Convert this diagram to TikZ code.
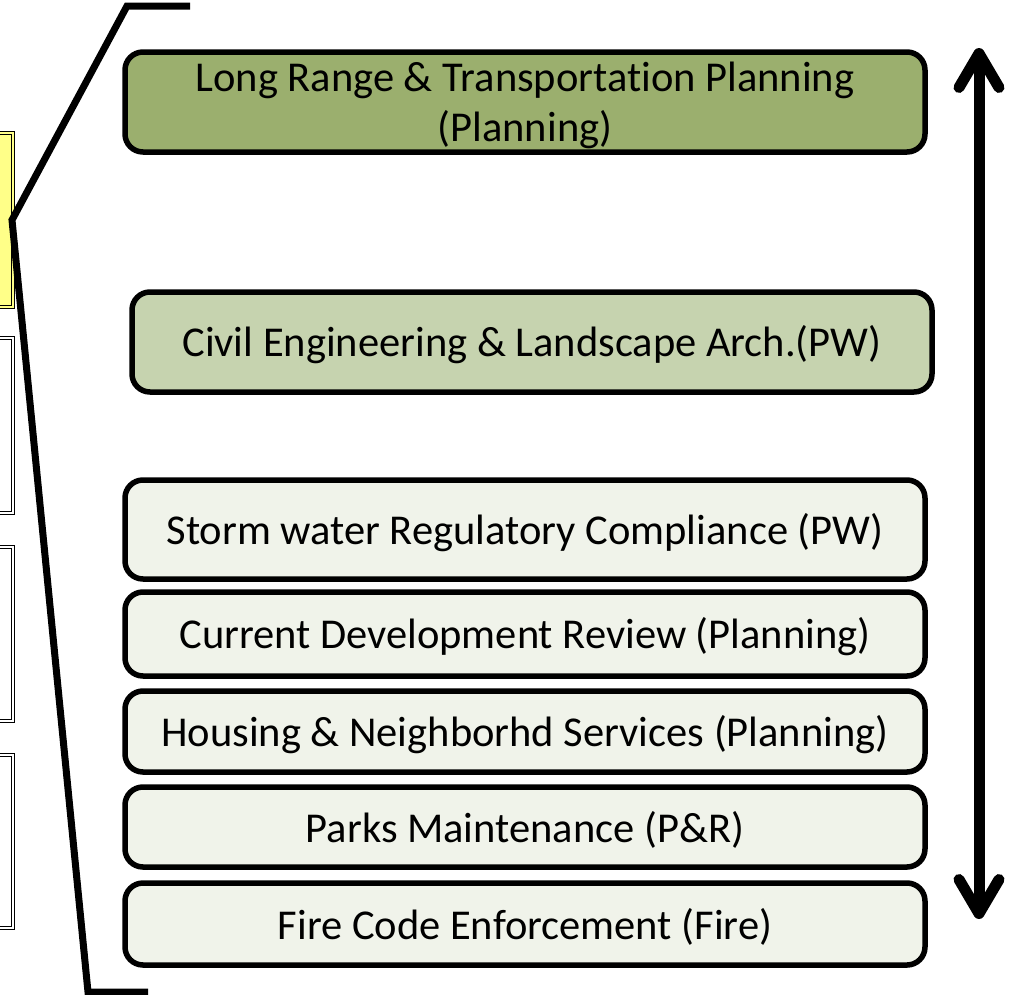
\documentclass[tikz,border=0pt]{standalone}
\usepackage{fontspec}
\setmainfont{Carlito}[Ligatures=NoCommon]
\usetikzlibrary{arrows.meta}

\definecolor{rangegreen}{HTML}{9BAF6E}
\definecolor{civilgreen}{HTML}{C6D3AF}
\definecolor{paleunit}{HTML}{F0F3EA}
\definecolor{deptyellow}{HTML}{FFFF88}

\begin{document}
\begin{tikzpicture}[x=1pt,y=-1pt,
  unit/.style={draw=black,line width=5.5pt,rounded corners=18pt},
  dept/.style={draw=black,line width=1.2pt,double distance=1.6pt},
  font=\fontsize{42.5}{50}\selectfont]
\useasboundingbox (0,0) rectangle (1010,994);
% department boxes, cut off at the left edge
\path[dept,double=deptyellow,fill=deptyellow] (-30,133) rectangle (13,307);
\path[dept,double=white,fill=white] (-30,338) rectangle (13,513);
\path[dept,double=white,fill=white] (-30,547) rectangle (13,721);
\path[dept,double=white,fill=white] (-30,755) rectangle (13,928);
% zoom bracket
\draw[line width=7pt,line join=miter] (190,6) -- (127,6) -- (12,220) -- (88,992) -- (148,992);
% units
\draw[unit,fill=rangegreen] (125,52) rectangle (925,152);
\node[align=center] (range) at (525,105) {Long Range \& Transportation Planning\\(Planning)};
\draw[unit,fill=civilgreen] (132,292) rectangle (932,392);
\node (civil) at (532,345) {Civil Engineering \& Landscape Arch.(PW)};
\draw[unit,fill=paleunit] (125,480) rectangle (925,579);
\node (storm) at (525,533) {Storm water Regulatory Compliance (PW)};
\draw[unit,fill=paleunit] (125,592) rectangle (925,676);
\node (review) at (525,637) {Current Development Review (Planning)};
\draw[unit,fill=paleunit] (125,691) rectangle (925,772);
\node (housing) at (525,735) {Housing \& Neighborhd Services (Planning)};
\draw[unit,fill=paleunit] (125,787) rectangle (925,867);
\node (parks) at (525,830) {Parks Maintenance (P\&R)};
\draw[unit,fill=paleunit] (125,883) rectangle (925,965);
\node (fire) at (525,927) {Fire Code Enforcement (Fire)};
% span arrow
\coordinate (top) at (979,48);
\coordinate (bottom) at (979,919);
\draw[line width=11pt,{Straight Barb[round,length=34pt,width=40pt]}-{Straight Barb[round,length=34pt,width=40pt]}] (top) -- (bottom);
\end{tikzpicture}
\end{document}
